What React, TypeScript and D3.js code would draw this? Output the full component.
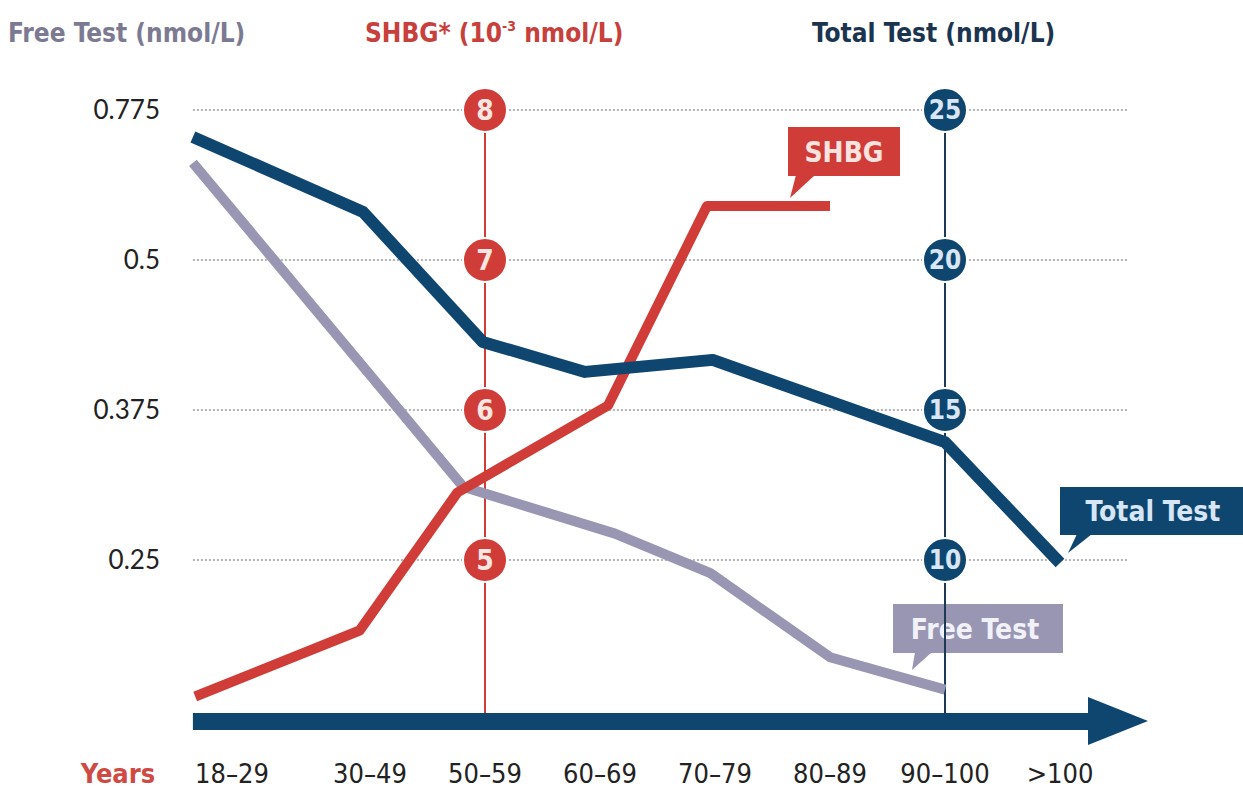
import * as d3 from "d3";

// age groups along the bottom and where their labels sit (index units)
const ages = ["18–29", "30–49", "50–59", "60–69", "70–79", "80–89", "90–100", ">100"];
const agePos = [-0.2, 1, 2, 3, 4, 5, 6, 7];

// left axis: free testosterone (nmol/L)
const freeTicks = [0.775, 0.5, 0.375, 0.25];
// middle axis: SHBG (10^-3 nmol/L)
const shbgTicks = [8, 7, 6, 5];
// right axis: total testosterone (nmol/L)
const totalTicks = [25, 20, 15, 10];

const freeTest = [
  { a: -0.54, v: 0.678 },
  { a: 1.02, v: 0.402 },
  { a: 1.81, v: 0.311 },
  { a: 3.13, v: 0.272 },
  { a: 3.96, v: 0.239 },
  { a: 5.0, v: 0.169 },
  { a: 6.0, v: 0.142 },
];
const shbg = [
  { a: -0.52, v: 4.09 },
  { a: 0.91, v: 4.53 },
  { a: 1.76, v: 5.45 },
  { a: 3.07, v: 6.03 },
  { a: 3.93, v: 7.36 },
  { a: 5.0, v: 7.36 },
];
const totalTest = [
  { a: -0.54, v: 24.1 },
  { a: 0.94, v: 21.6 },
  { a: 1.98, v: 17.27 },
  { a: 2.87, v: 16.27 },
  { a: 3.98, v: 16.67 },
  { a: 6.0, v: 13.93 },
  { a: 7.0, v: 9.9 },
];

const RED = "#d03c37";
const NAVY = "#0e4670";
const LAV = "#9896b3";
const COND = "'Liberation Sans Narrow','DejaVu Sans Condensed','Roboto',sans-serif";

export default function App() {
  const width = 1243,
    height = 788;

  const x = d3.scaleLinear().domain([0, 7]).range([255, 1060]);
  const yTotal = d3.scaleLinear().domain([10, 25]).range([560, 110]);
  const yShbg = d3.scaleLinear().domain([5, 8]).range([560, 110]);
  // the free-test axis is not evenly spaced, so use a piecewise scale
  const yFree = d3.scaleLinear().domain([0.25, 0.375, 0.5, 0.775]).range([560, 410, 260, 110]);

  const line = (ys: d3.ScaleLinear<number, number>) =>
    d3
      .line<{ a: number; v: number }>()
      .x((d) => x(d.a))
      .y((d) => ys(d.v));

  const axisY = 721;
  const x0 = x(-0.54);
  const shbgX = x(2);
  const totalX = x(6);

  return (
    <svg width={width} height={height} style={{ position: "absolute", left: 0, top: 0, background: "#fff" }}>
      {/* titles */}
      <text x={8} y={42} fontFamily={COND} fontWeight="bold" fontSize={26} fill="#7c7a93">
        Free Test (nmol/L)
      </text>
      <text x={365} y={42} fontFamily={COND} fontWeight="bold" fontSize={26} fill="#c8403c">
        SHBG* (10
        <tspan fontSize={14} dy={-11}>-3</tspan>
        <tspan dy={11}> nmol/L)</tspan>
      </text>
      <text x={812} y={42} fontFamily={COND} fontWeight="bold" fontSize={26} fill="#1b3450">
        Total Test (nmol/L)
      </text>

      {/* grid lines + left labels */}
      {freeTicks.map((t) => (
        <g key={t}>
          <line
            x1={x0}
            x2={1128}
            y1={yFree(t)}
            y2={yFree(t)}
            stroke="#b4b4b4"
            strokeWidth={2}
            strokeDasharray="2 2"
          />
          <text
            x={160}
            y={yFree(t)}
            dy="0.35em"
            textAnchor="end"
            fontFamily="Lato, sans-serif"
            fontSize={26}
            fill="#222"
          >
            {t}
          </text>
        </g>
      ))}

      {/* callout boxes */}
      <g fontFamily={COND} fontWeight="bold" textAnchor="middle">
        <rect x={893} y={604} width={170} height={49} fill={LAV} />
        <path d="M915,652 L932,652 L912,670 Z" fill={LAV} />
        <text x={975} y={629} dy="0.36em" fontSize={28} fill="#f2f1f8">
          Free Test
        </text>

        <rect x={788} y={127} width={112} height={49} fill={RED} />
        <path d="M796,175 L815,175 L790,198 Z" fill={RED} />
        <text x={844} y={152} dy="0.36em" fontSize={28} fill="#fbe3e0">
          SHBG
        </text>

        <rect x={1060} y={487} width={183} height={48} fill={NAVY} />
        <path d="M1077,534 L1092,534 L1068,553 Z" fill={NAVY} />
        <text x={1153} y={511} dy="0.36em" fontSize={28} fill="#d7e6f6">
          Total Test
        </text>
      </g>

      {/* vertical reference axes */}
      <line x1={shbgX} x2={shbgX} y1={yShbg(8)} y2={axisY - 8} stroke={RED} strokeWidth={2} />
      <line x1={totalX} x2={totalX} y1={yTotal(25)} y2={axisY - 8} stroke="#1d3a55" strokeWidth={2} />

      {/* data lines */}
      <path d={line(yFree)(freeTest) ?? ""} fill="none" stroke={LAV} strokeWidth={10} strokeLinejoin="round" />
      <path d={line(yShbg)(shbg) ?? ""} fill="none" stroke={RED} strokeWidth={10} strokeLinejoin="round" />
      <path d={line(yTotal)(totalTest) ?? ""} fill="none" stroke={NAVY} strokeWidth={12} strokeLinejoin="round" />

      {/* axis circles */}
      <g fontFamily={COND} fontWeight="bold" textAnchor="middle">
        {shbgTicks.map((t) => (
          <g key={t}>
            <circle cx={shbgX} cy={yShbg(t)} r={22} fill={RED} stroke="#fff" strokeWidth={2} />
            <text x={shbgX} y={yShbg(t)} dy="0.36em" fontSize={28} fill="#fbe6e2">
              {t}
            </text>
          </g>
        ))}
        {totalTicks.map((t) => (
          <g key={t}>
            <circle cx={totalX} cy={yTotal(t)} r={22} fill={NAVY} stroke="#fff" strokeWidth={2} />
            <text x={totalX} y={yTotal(t)} dy="0.36em" fontSize={26} fill="#d8e6f5">
              {t}
            </text>
          </g>
        ))}
      </g>

      {/* bottom arrow */}
      <rect x={x0} y={axisY - 8} width={1092 - x0} height={17} fill={NAVY} />
      <path d={`M1088,${axisY - 24} L1148,${axisY} L1088,${axisY + 24} Z`} fill={NAVY} />

      {/* x labels */}
      <text x={118} y={773} dy="0.36em" textAnchor="middle" fontFamily={COND} fontWeight="bold" fontSize={27} fill="#cf4a44">
        Years
      </text>
      {ages.map((a, i) => (
        <text
          key={a}
          x={x(agePos[i])}
          y={773}
          dy="0.36em"
          textAnchor="middle"
          fontFamily={COND}
          fontSize={27}
          fill="#222"
        >
          {a}
        </text>
      ))}
    </svg>
  );
}
